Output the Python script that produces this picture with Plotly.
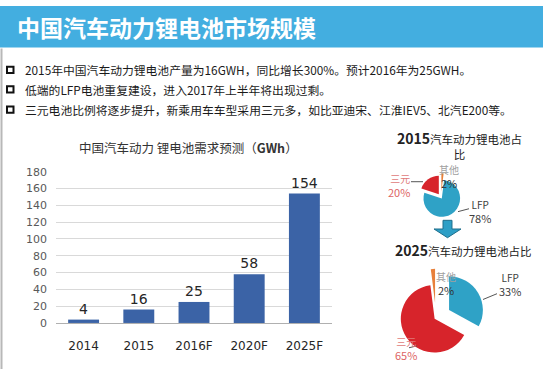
import plotly.graph_objects as go

W, H = 543, 376

# ---------------- data ----------------
years = ["2014", "2015", "2016F", "2020F", "2025F"]
demand_gwh = [4, 16, 25, 58, 154]
y_ticks = [0, 20, 40, 60, 80, 100, 120, 140, 160, 180]

pie_labels = ["LFP", "三元", "其他"]
share_2015 = [78, 20, 2]
share_2025 = [33, 65, 2]

header_title = "中国汽车动力锂电池市场规模"
bullets = [
    "2015年中国汽车动力锂电池产量为16GWH，同比增长300%。预计2016年为25GWH。",
    "低端的LFP电池重复建设，进入2017年上半年将出现过剩。",
    "三元电池比例将逐步提升，新乘用车车型采用三元多，如比亚迪宋、江淮IEV5、北汽E200等。",
]
bar_title = "中国汽车动力 锂电池需求预测（<b>GWh</b>）"
pie_titles = ["2015", "2025"]

FONT = "Noto Sans CJK SC, Noto Sans, sans-serif"
pie_colors = ["#2fa2c6", "#d7242b", "#e8803a"]


def px(x):
    return x / W


def py(y):
    return 1 - y / H


def pie_domain(cx, cy, r, maxpull):
    half = r * (1 + maxpull)
    return dict(x=[px(cx - half), px(cx + half)], y=[py(cy + half), py(cy - half)])


fig = go.Figure()

# bar chart
fig.add_trace(go.Bar(
    x=years, y=demand_gwh,
    marker=dict(color="#3b63a6", line=dict(width=0)),
    text=[str(v) for v in demand_gwh], textposition="outside",
    textfont=dict(size=14, color="#262626", family="DejaVu Sans, sans-serif"),
    cliponaxis=False, showlegend=False, hoverinfo="skip",
))

# pies
pull15 = [0.08, 0.2, 0.3]
pull25 = [0.45, 0.05, 0.45]
fig.add_trace(go.Pie(
    labels=pie_labels, values=share_2015, sort=False, direction="clockwise",
    rotation=7.2, pull=pull15, textinfo="none", hoverinfo="skip",
    marker=dict(colors=pie_colors, line=dict(width=0)),
    domain=pie_domain(441, 198, 19, max(pull15)), showlegend=False,
))
fig.add_trace(go.Pie(
    labels=pie_labels, values=share_2025, sort=False, direction="clockwise",
    rotation=0, pull=pull25, textinfo="none", hoverinfo="skip",
    marker=dict(colors=pie_colors, line=dict(width=0)),
    domain=pie_domain(436, 323, 35, max(pull25)), showlegend=False,
))

shapes = []
annotations = []

# header band
shapes.append(dict(type="rect", xref="paper", yref="paper", x0=0, x1=1, y0=py(43), y1=1,
                   fillcolor="#43aee0", line=dict(width=0), layer="below"))
annotations.append(dict(text="<b>" + header_title + "</b>", x=px(15), y=py(22),
                        xref="paper", yref="paper", xanchor="left", yanchor="middle",
                        showarrow=False, font=dict(size=23, color="white", family=FONT)))
# left border
shapes.append(dict(type="line", xref="paper", yref="paper", x0=px(1.5), x1=px(1.5),
                   y0=0, y1=py(44), line=dict(color="#b8b8b8", width=2)))

# bullets
for i, (t, yc) in enumerate(zip(bullets, [66, 86, 107])):
    shapes.append(dict(type="rect", xref="paper", yref="paper",
                       x0=px(7), x1=px(13.5), y0=py(yc + 3.5), y1=py(yc - 3),
                       line=dict(color="#111", width=2), fillcolor="white"))
    annotations.append(dict(text=t, x=px(23), y=py(yc), xref="paper", yref="paper",
                            xanchor="left", yanchor="middle", showarrow=False,
                            font=dict(size=11.8, color="#1a1a1a", family=FONT)))

# bar chart title
annotations.append(dict(text=bar_title, x=px(188), y=py(147), xref="paper", yref="paper",
                        xanchor="center", yanchor="middle", showarrow=False,
                        font=dict(size=12.5, color="#333", family=FONT)))

# pie titles
annotations.append(dict(
    text='<span style="font-size:14px"><b>' + pie_titles[0] + "</b></span>汽车动力锂电池占<br>比",
    x=px(460), y=py(143.5), xref="paper", yref="paper", xanchor="center", yanchor="middle",
    showarrow=False, align="center", font=dict(size=11.5, color="#222", family=FONT)))
annotations.append(dict(
    text='<span style="font-size:14px"><b>' + pie_titles[1] + "</b></span>汽车动力锂电池占比",
    x=px(463), y=py(253), xref="paper", yref="paper", xanchor="center", yanchor="middle",
    showarrow=False, font=dict(size=11.5, color="#222", family=FONT)))


def lab(name, pct, x, y, name_color, pct_color, align="center"):
    text = (f'<span style="font-size:10px;color:{name_color}">{name}</span><br>'
            f'<span style="color:{pct_color}">{pct}%</span>')
    annotations.append(dict(text=text, x=px(x), y=py(y), xref="paper", yref="paper",
                            xanchor="center", yanchor="middle", showarrow=False,
                            align=align, borderpad=0,
                            font=dict(size=11, color=pct_color, family=FONT)))


def seg(x0, y0, x1, y1, color="#555"):
    shapes.append(dict(type="line", xref="paper", yref="paper", x0=px(x0), y0=py(y0),
                       x1=px(x1), y1=py(y1), line=dict(color=color, width=1)))


# 2015 pie labels
lab(pie_labels[2], share_2015[2], 449, 176.5, "#a0a0a0", "#333")
lab(pie_labels[1], share_2015[1], 399, 186, "#e07a7a", "#dd6464", "right")
lab(pie_labels[0], share_2015[0], 480, 213, "#404040", "#404040")
seg(411, 182, 423, 182)
seg(458, 213, 469, 210)

# 2025 pie labels
lab(pie_labels[2], share_2025[2], 446, 287.5, "#a0a0a0", "#333")
lab(pie_labels[0], share_2025[0], 509.5, 288, "#404040", "#404040")
lab(pie_labels[1], share_2025[1], 406, 355, "#e07a7a", "#dd6464")
seg(483, 304, 497, 298)
seg(409, 354, 417, 352)

# down arrow between pies
pts = [(443, 222), (452, 222), (452, 231), (461, 231), (447.5, 240), (434, 231), (443, 231)]
path = "M " + " L ".join(f"{px(a):.5f},{py(b):.5f}" for a, b in pts) + " Z"
shapes.append(dict(type="path", xref="paper", yref="paper", path=path,
                   fillcolor="#2e9fc6", line=dict(color="#1f6f8c", width=1)))

fig.update_layout(
    width=W, height=H, margin=dict(l=0, r=0, t=0, b=0),
    paper_bgcolor="white", plot_bgcolor="white",
    bargap=0.44,
    xaxis=dict(domain=[px(56), px(332)], showgrid=False, showline=True,
               linecolor="#b0b0b0", linewidth=1, ticks="", ticklabelstandoff=12,
               tickfont=dict(size=12, color="#262626", family="DejaVu Sans, sans-serif"),
               fixedrange=True),
    yaxis=dict(domain=[py(328.3), py(171.7)], range=[0, 180], tickvals=y_ticks,
               showgrid=True, gridcolor="#d9d9d9", gridwidth=1, zeroline=False,
               showline=False, ticks="", ticklabelstandoff=8,
               tickfont=dict(size=11, color="#595959", family="DejaVu Sans, sans-serif"),
               fixedrange=True),
    shapes=shapes, annotations=annotations,
)

fig.write_html("out.html", config={"displayModeBar": False},
               post_script="document.body.style.margin='0';document.body.style.overflow='hidden';")
